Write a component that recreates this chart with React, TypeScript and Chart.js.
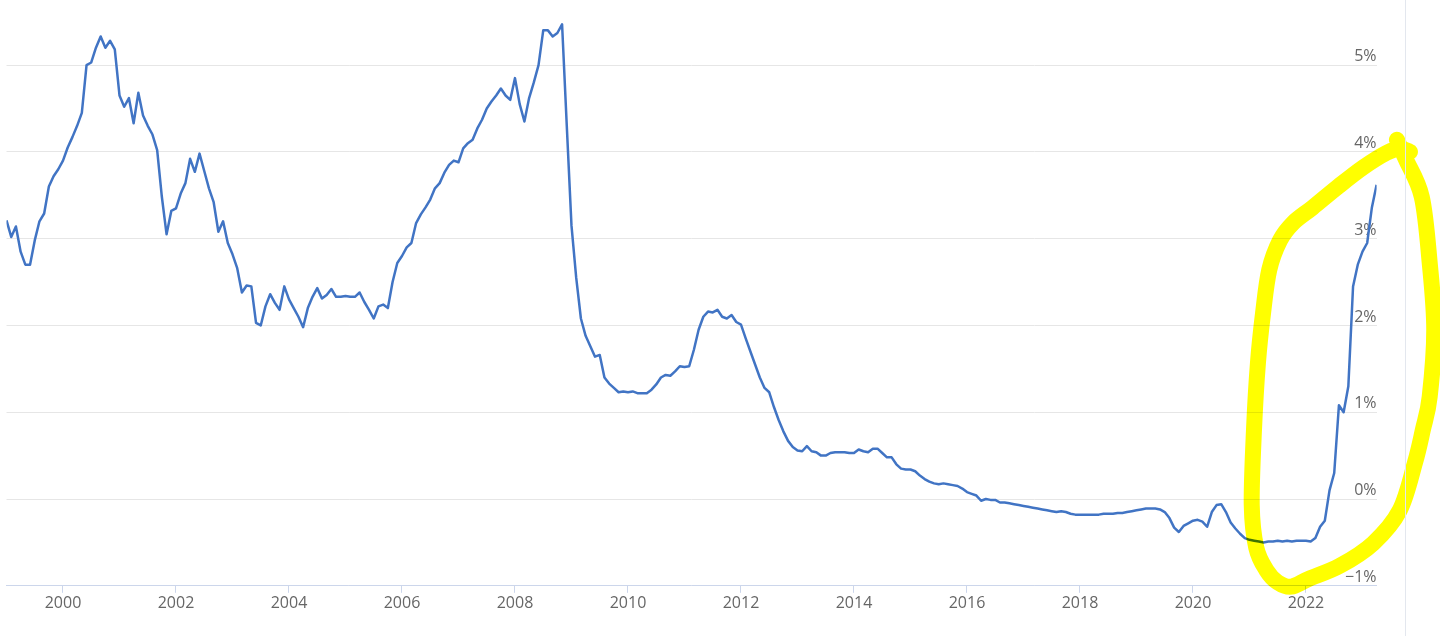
import React, { useEffect, useRef } from "react";
import { Chart, registerables } from "chart.js";

Chart.register(...registerables);

// Monthly 12-month rate, %
const START_YEAR = 1999;
const r1999 = [3.21, 3.02, 3.14, 2.85, 2.7, 2.7, 2.98, 3.2, 3.29, 3.6, 3.72, 3.8];
const r2000 = [3.9, 4.05, 4.17, 4.3, 4.45, 5.0, 5.03, 5.2, 5.33, 5.2, 5.28, 5.18];
const r2001 = [4.65, 4.52, 4.62, 4.33, 4.68, 4.42, 4.3, 4.2, 4.02, 3.48, 3.05, 3.32];
const r2002 = [3.35, 3.52, 3.64, 3.92, 3.77, 3.98, 3.78, 3.58, 3.42, 3.08, 3.2, 2.95];
const r2003 = [2.82, 2.66, 2.38, 2.46, 2.45, 2.03, 2.0, 2.22, 2.36, 2.26, 2.18, 2.45];
const r2004 = [2.3, 2.2, 2.1, 1.98, 2.2, 2.33, 2.43, 2.31, 2.35, 2.42, 2.33, 2.33];
const r2005 = [2.34, 2.33, 2.33, 2.38, 2.27, 2.18, 2.08, 2.22, 2.24, 2.2, 2.5, 2.72];
const r2006 = [2.8, 2.9, 2.95, 3.18, 3.28, 3.36, 3.45, 3.58, 3.64, 3.76, 3.85, 3.9];
const r2007 = [3.88, 4.04, 4.1, 4.14, 4.27, 4.37, 4.5, 4.58, 4.65, 4.73, 4.65, 4.6];
const r2008 = [4.85, 4.55, 4.35, 4.62, 4.8, 5.0, 5.4, 5.4, 5.33, 5.37, 5.47, 4.3];
const r2009 = [3.15, 2.55, 2.08, 1.88, 1.76, 1.64, 1.66, 1.4, 1.33, 1.28, 1.23, 1.24];
const r2010 = [1.23, 1.24, 1.22, 1.22, 1.22, 1.26, 1.32, 1.4, 1.43, 1.42, 1.47, 1.53];
const r2011 = [1.52, 1.53, 1.72, 1.95, 2.1, 2.16, 2.15, 2.18, 2.1, 2.08, 2.12, 2.04];
const r2012 = [2.01, 1.85, 1.7, 1.55, 1.4, 1.28, 1.23, 1.06, 0.91, 0.78, 0.67, 0.6];
const r2013 = [0.56, 0.55, 0.61, 0.55, 0.54, 0.5, 0.5, 0.53, 0.54, 0.54, 0.54, 0.53];
const r2014 = [0.53, 0.57, 0.55, 0.54, 0.58, 0.58, 0.53, 0.48, 0.48, 0.4, 0.35, 0.34];
const r2015 = [0.34, 0.32, 0.27, 0.23, 0.2, 0.18, 0.17, 0.18, 0.17, 0.16, 0.15, 0.12];
const r2016 = [0.08, 0.06, 0.04, -0.02, 0.0, -0.01, -0.01, -0.04, -0.04, -0.05, -0.06, -0.07];
const r2017 = [-0.08, -0.09, -0.1, -0.11, -0.12, -0.13, -0.14, -0.15, -0.14, -0.15, -0.17, -0.18];
const r2018 = [-0.18, -0.18, -0.18, -0.18, -0.18, -0.17, -0.17, -0.17, -0.16, -0.16, -0.15, -0.14];
const r2019 = [-0.13, -0.12, -0.11, -0.11, -0.11, -0.12, -0.15, -0.22, -0.33, -0.38, -0.31, -0.28];
const r2020 = [-0.25, -0.24, -0.26, -0.32, -0.15, -0.07, -0.06, -0.15, -0.27, -0.34, -0.4, -0.45];
const r2021 = [-0.47, -0.48, -0.49, -0.5, -0.49, -0.49, -0.48, -0.49, -0.48, -0.49, -0.48, -0.48];
const r2022 = [-0.48, -0.49, -0.45, -0.32, -0.25, 0.1, 0.3, 1.08, 1.0, 1.3, 2.45, 2.7];
const r2023 = [2.85, 2.95, 3.36, 3.62];

const yearlyRates = [
  r1999, r2000, r2001, r2002, r2003, r2004, r2005, r2006, r2007, r2008, r2009, r2010,
  r2011, r2012, r2013, r2014, r2015, r2016, r2017, r2018, r2019, r2020, r2021, r2022, r2023,
];

const xTickYears = [2000, 2002, 2004, 2006, 2008, 2010, 2012, 2014, 2016, 2018, 2020, 2022];
const yTickValues = [-1, 0, 1, 2, 3, 4, 5];
const X_MIN = 1999;
const X_MAX = 2023.25;
const Y_MIN = -1;
const Y_MAX = 5.75;

// Freehand highlight loop, in [year, %] data units
const highlightPath: [number, number][] = [
  [2023.61, 4.14], [2023.77, 3.91], [2024.05, 3.48], [2024.19, 2.72], [2024.27, 1.95],
  [2024.19, 1.18], [2024.07, 0.8], [2023.93, 0.42], [2023.66, -0.13], [2023.19, -0.51],
  [2022.6, -0.77], [2022.05, -0.92], [2021.74, -1.01], [2021.5, -0.96], [2021.3, -0.82],
  [2021.12, -0.56], [2021.04, -0.07], [2021.08, 0.8], [2021.15, 1.57], [2021.24, 2.14],
  [2021.35, 2.64], [2021.54, 2.98], [2021.77, 3.18], [2022.12, 3.36], [2022.55, 3.59],
  [2023.01, 3.82], [2023.43, 3.99], [2023.66, 4.04], [2023.84, 4.0],
];

const FONT = { family: '"Open Sans", "Noto Sans", sans-serif', size: 16 };

const highlightPlugin = {
  id: "highlightLoop",
  afterDraw(chart: any) {
    const { ctx, scales } = chart;
    const xs = scales.x;
    const ys = scales.y;
    const pts = highlightPath.map(([a, b]) => ({
      x: xs.getPixelForValue(a),
      y: ys.getPixelForValue(b),
    }));
    ctx.save();
    ctx.globalCompositeOperation = "multiply";
    ctx.strokeStyle = "#ffff00";
    ctx.lineWidth = 16;
    ctx.lineCap = "round";
    ctx.lineJoin = "round";
    ctx.beginPath();
    ctx.moveTo(pts[0].x, pts[0].y);
    for (let i = 0; i < pts.length - 1; i++) {
      const p0 = pts[i - 1] || pts[i];
      const p1 = pts[i];
      const p2 = pts[i + 1];
      const p3 = pts[i + 2] || p2;
      const c1x = p1.x + (p2.x - p0.x) / 6;
      const c1y = p1.y + (p2.y - p0.y) / 6;
      const c2x = p2.x - (p3.x - p1.x) / 6;
      const c2y = p2.y - (p3.y - p1.y) / 6;
      ctx.bezierCurveTo(c1x, c1y, c2x, c2y, p2.x, p2.y);
    }
    ctx.stroke();
    ctx.restore();
  },
};

export default function App() {
  const canvasRef = useRef<HTMLCanvasElement | null>(null);

  useEffect(() => {
    if (!canvasRef.current) return;
    const points: { x: number; y: number }[] = [];
    yearlyRates.forEach((arr, yi) => {
      arr.forEach((v, m) => {
        points.push({ x: START_YEAR + yi + m / 12, y: v });
      });
    });

    const chart = new Chart(canvasRef.current, {
      type: "line",
      data: {
        datasets: [
          {
            data: points,
            borderColor: "#4174c4",
            borderWidth: 2.5,
            pointRadius: 0,
            tension: 0,
            fill: false,
            borderJoinStyle: "round",
          },
        ],
      },
      options: {
        animation: false,
        responsive: false,
        devicePixelRatio: 1,
        parsing: false,
        layout: { padding: { left: 6.5, right: 63.4, top: 0, bottom: 22 } },
        plugins: {
          legend: { display: false },
          tooltip: { enabled: false },
          title: { display: false },
        },
        scales: {
          x: {
            type: "linear",
            min: X_MIN,
            max: X_MAX,
            afterBuildTicks: (s: any) => {
              s.ticks = xTickYears.map((v) => ({ value: v }));
            },
            afterFit: (s: any) => {
              s.paddingLeft = 0;
              s.paddingRight = 0;
            },
            grid: {
              display: true,
              drawOnChartArea: false,
              drawTicks: true,
              tickLength: 7,
              color: "#ccd6eb",
              tickColor: "#ccd6eb",
            },
            border: { display: true, color: "#ccd6eb", width: 1 },
            ticks: {
              callback: (v: any) => String(v),
              color: "#666666",
              font: FONT,
              padding: 1,
              maxRotation: 0,
              autoSkip: false,
            },
          },
          y: {
            type: "linear",
            position: "right",
            min: Y_MIN,
            max: Y_MAX,
            afterBuildTicks: (s: any) => {
              s.ticks = yTickValues.map((v) => ({ value: v }));
            },
            afterFit: (s: any) => {
              s.paddingTop = 0;
              s.paddingBottom = 0;
              s.width = 0;
            },
            grid: { color: "#e6e6e6", drawTicks: false, lineWidth: 1 },
            border: { display: false },
            ticks: {
              mirror: true,
              padding: 0,
              labelOffset: -8.5,
              color: "#666666",
              font: FONT,
              callback: (v: any) => (v < 0 ? "\u2212" + Math.abs(v) : String(v)) + "%",
            },
          },
        },
      },
      plugins: [highlightPlugin],
    } as any);

    return () => chart.destroy();
  }, []);

  return (
    <div style={{ position: "absolute", left: 0, top: 0, width: 1440, height: 636, background: "#ffffff", overflow: "hidden" }}>
      <canvas ref={canvasRef} width={1440} height={636} style={{ display: "block" }} />
      <div style={{ position: "absolute", left: 1405, top: 0, width: 1, height: 636, background: "#e3e7ee" }} />
    </div>
  );
}
